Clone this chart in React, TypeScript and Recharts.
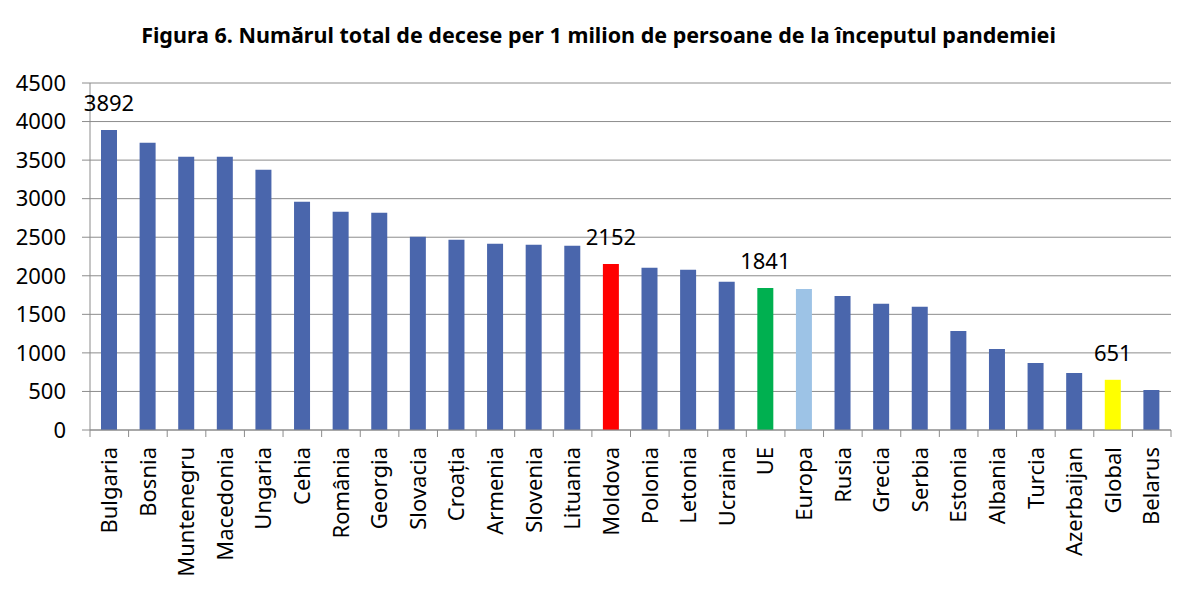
import { Bar, BarChart, CartesianGrid, Cell, LabelList, XAxis, YAxis } from 'recharts';

// categorii (țări / regiuni) și valorile
const countries = [
  'Bulgaria', 'Bosnia', 'Muntenegru', 'Macedonia', 'Ungaria', 'Cehia', 'România', 'Georgia',
  'Slovacia', 'Croația', 'Armenia', 'Slovenia', 'Lituania', 'Moldova', 'Polonia', 'Letonia',
  'Ucraina', 'UE', 'Europa', 'Rusia', 'Grecia', 'Serbia', 'Estonia', 'Albania', 'Turcia',
  'Azerbaijan', 'Global', 'Belarus',
];
const deaths = [
  3892, 3725, 3543, 3543, 3375, 2959, 2830, 2817,
  2505, 2466, 2414, 2401, 2388, 2152, 2103, 2077,
  1921, 1841, 1830, 1739, 1636, 1597, 1285, 1051, 870,
  740, 651, 519,
];
const labelled = ['Bulgaria', 'Moldova', 'UE', 'Global'];
const yTicks = [0, 500, 1000, 1500, 2000, 2500, 3000, 3500, 4000, 4500];

const TITLE = 'Figura 6. Numărul total de decese per 1 milion de persoane de la începutul pandemiei';

const W = 1197;
const H = 593;
const LEFT = 90;
const RIGHT = 26;
const FONT = '"Noto Sans", sans-serif';
const GREY = '#8C8C8C';
const BLUE = '#4A66AC';
const highlight: Record<string, string> = {
  Moldova: '#FF0000',
  UE: '#00B050',
  Europa: '#9DC3E6',
  Global: '#FFFF00',
};

const data = countries.map((name, i) => ({ name, value: deaths[i] }));
const STEP = (W - LEFT - RIGHT) / countries.length;

function CountryTick(props: any) {
  const { x, y, payload, index } = props;
  const half = STEP / 2;
  return (
    <g>
      <line x1={x - half} x2={x - half} y1={y} y2={y + 7} stroke={GREY} />
      {index === countries.length - 1 && (
        <line x1={x + half} x2={x + half} y1={y} y2={y + 7} stroke={GREY} />
      )}
      <text
        transform={`translate(${x},${y + 17}) rotate(-90)`}
        textAnchor="end"
        dy="0.35em"
        fontSize={22}
        fontFamily={FONT}
        fill="#000"
      >
        {payload.value}
      </text>
    </g>
  );
}

function ValueLabel(props: any) {
  const { x, y, width, value, index } = props;
  if (!labelled.includes(countries[index])) return null;
  return (
    <text x={x + width / 2} y={y - 19} textAnchor="middle" fontSize={22} fontFamily={FONT} fill="#000">
      {value}
    </text>
  );
}

export default function App() {
  return (
    <div style={{ position: 'absolute', left: 0, top: 0, width: W, height: H, background: '#fff' }}>
      <div
        style={{
          position: 'absolute', top: 20, left: 0, width: W, textAlign: 'center',
          fontFamily: FONT, fontWeight: 700, fontSize: 21.5, color: '#000',
        }}
      >
        {TITLE}
      </div>
      <BarChart width={W} height={H} data={data} margin={{ top: 83, right: RIGHT, bottom: 0, left: 0 }}>
        <CartesianGrid stroke={GREY} vertical={false} />
        <XAxis
          dataKey="name"
          interval={0}
          height={163}
          axisLine={{ stroke: GREY }}
          tickLine={false}
          tickSize={0}
          tickMargin={0}
          tick={<CountryTick />}
        />
        <YAxis
          width={LEFT}
          domain={[0, 4500]}
          ticks={yTicks}
          interval={0}
          axisLine={{ stroke: GREY }}
          tickLine={{ stroke: GREY }}
          tickSize={8}
          tickMargin={16}
          tick={{ fontSize: 22, fill: '#000', fontFamily: FONT }}
        />
        <Bar dataKey="value" barSize={16} isAnimationActive={false}>
          {data.map((d) => (
            <Cell key={d.name} fill={highlight[d.name] ?? BLUE} />
          ))}
          <LabelList dataKey="value" content={<ValueLabel />} />
        </Bar>
      </BarChart>
    </div>
  );
}
